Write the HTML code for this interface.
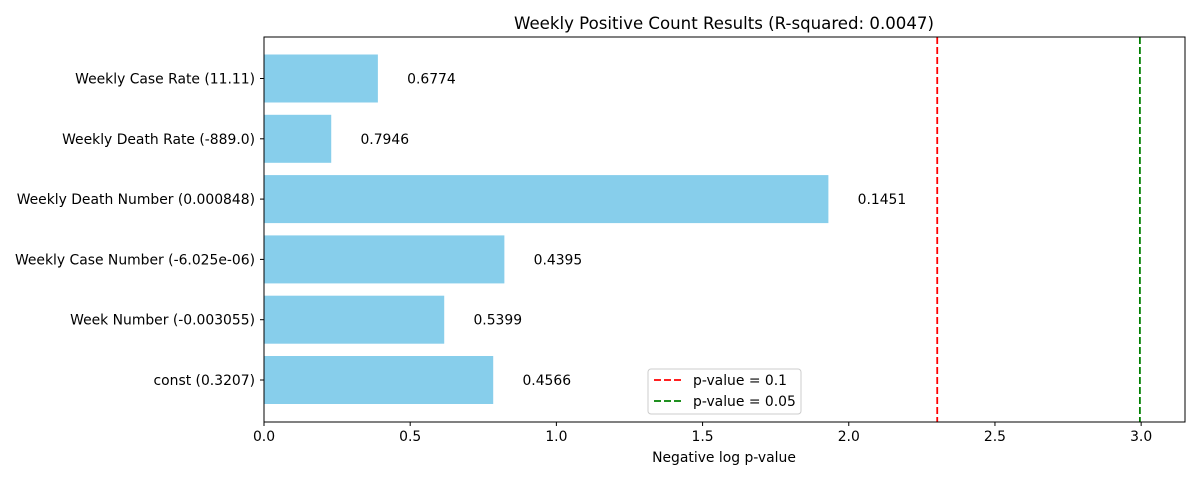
<!DOCTYPE html>
<html><head><meta charset="utf-8"><style>
body{margin:0;background:#fff;font-family:"Liberation Sans","DejaVu Sans",sans-serif}
svg text{font-family:"DejaVu Sans","Liberation Sans",sans-serif}
</style></head><body>
<svg id="chart" width="1200" height="480" xmlns="http://www.w3.org/2000/svg"></svg>
<script>
const categories=["const (0.3207)","Week Number (-0.003055)","Weekly Case Number (-6.025e-06)","Weekly Death Number (0.000848)","Weekly Death Rate (-889.0)","Weekly Case Rate (11.11)"];
const pValues=[0.4566,0.5399,0.4395,0.1451,0.7946,0.6774];
const xTicks=[0,0.5,1.0,1.5,2.0,2.5,3.0];
const thresholds=[0.1,0.05];
const thresholdColors=["red","green"];
const svg=document.getElementById('chart');
const NS="http://www.w3.org/2000/svg";
const L=264,R=1185,T=37,B=422,xmax=3.15;
const FS=13.9;
const x=v=>L+v/xmax*(R-L);
const band=60.3, y=i=>380-i*band;
function mk(tag,attrs,text){const e=document.createElementNS(NS,tag);for(const k in attrs)e.setAttribute(k,attrs[k]);if(text!==undefined)e.textContent=text;svg.appendChild(e);return e;}
mk('text',{x:724,y:29,'text-anchor':'middle','font-size':16.6},'Weekly Positive Count Results (R-squared: 0.0047)');
categories.forEach((c,i)=>{
  const v=-Math.log(pValues[i]);
  const r=mk('rect',{x:x(0),y:y(i)-24,width:x(v)-x(0),height:48,fill:'#87ceeb'});
  
  
  const t=mk('text',{x:x(v+0.1),y:y(i)+5,'font-size':FS},pValues[i].toFixed(4));
  
  
  mk('line',{x1:L-4,x2:L,y1:y(i),y2:y(i),stroke:'#000'});
  const yl=mk('text',{x:L-9,y:y(i)+5,'font-size':FS,'text-anchor':'end'},c);
  
  
});
thresholds.forEach((p,i)=>{
  const l=mk('line',{x1:x(-Math.log(p)),x2:x(-Math.log(p)),y1:T,y2:B,stroke:thresholdColors[i],'stroke-width':1.8,'stroke-dasharray':'7,3'});
  
  
});
mk('rect',{x:L,y:T,width:R-L,height:B-T,fill:'none',stroke:'#000','stroke-width':1});
xTicks.forEach(v=>{
  mk('line',{x1:x(v),x2:x(v),y1:B,y2:B+4,stroke:'#000'});
  const t=mk('text',{x:x(v),y:B+19,'font-size':FS,'text-anchor':'middle'},v.toFixed(1));
  
  
});
mk('text',{x:724,y:462,'font-size':FS,'text-anchor':'middle'},'Negative log p-value');
const lg=mk('rect',{x:648,y:369,width:153,height:45,rx:3,fill:'#fff',stroke:'#ccc'});


thresholds.forEach((p,i)=>{
  const yy=380+i*21;
  mk('line',{x1:654,x2:682,y1:yy,y2:yy,stroke:thresholdColors[i],'stroke-width':1.8,'stroke-dasharray':'7,3'});
  const t=mk('text',{x:693,y:yy+5,'font-size':FS},'p-value = '+p);
  
  
});
</script>
</body></html>
